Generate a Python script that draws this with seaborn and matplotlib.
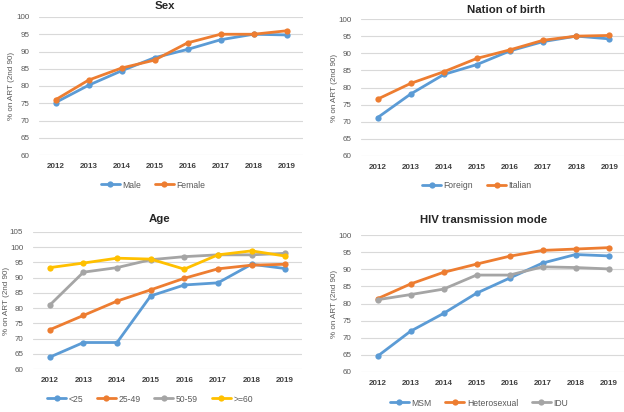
import matplotlib
matplotlib.use("Agg")
import matplotlib.pyplot as plt
import seaborn as sns
import pandas as pd

years = ["2012", "2013", "2014", "2015", "2016", "2017", "2018", "2019"]

sex_male = [75.2, 80.2, 84.4, 88.2, 90.6, 93.4, 95.0, 94.8]
sex_female = [76.0, 81.7, 85.2, 87.5, 92.5, 95.0, 95.0, 96.0]

birth_foreign = [71.2, 78.1, 83.8, 86.7, 90.7, 93.4, 95.0, 94.2]
birth_italian = [76.6, 81.2, 84.6, 88.5, 91.0, 93.8, 95.0, 95.2]

age_lt25 = [63.9, 68.7, 68.7, 84.0, 87.6, 88.3, 94.4, 93.0]
age_25_49 = [72.9, 77.6, 82.3, 86.0, 89.8, 92.9, 94.1, 94.4]
age_50_59 = [81.0, 91.8, 93.3, 95.9, 96.9, 97.5, 97.5, 98.0]
age_ge60 = [93.3, 94.8, 96.4, 96.1, 92.8, 97.5, 98.8, 97.1]

mode_msm = [64.6, 71.9, 77.1, 83.0, 87.4, 91.8, 94.3, 93.9]
mode_hetero = [81.4, 85.7, 89.1, 91.5, 93.8, 95.5, 95.9, 96.3]
mode_idu = [81.1, 82.6, 84.2, 88.3, 88.3, 90.7, 90.5, 90.1]

BLUE, ORANGE, GRAY, YELLOW = "#5B9BD5", "#ED7D31", "#A5A5A5", "#FFC000"
TEXT = "#595959"

sns.set_theme(style="white")
plt.rcParams["font.family"] = ["Liberation Sans", "DejaVu Sans"]

fig = plt.figure(figsize=(6.24, 4.12), dpi=100)
W, H = 624.0, 412.0


def panel(rect, title, title_xy, ylab_x, series, ylim, legend_xy):
    x0, y_top, x1, y_bot = rect
    ax = fig.add_axes([x0 / W, 1 - y_bot / H, (x1 - x0) / W, (y_bot - y_top) / H])
    rows = []
    for name, vals, _ in series:
        for yr, v in zip(years, vals):
            rows.append({"year": yr, "value": v, "group": name})
    df = pd.DataFrame(rows)
    palette = {name: c for name, _, c in series}
    sns.lineplot(data=df, x="year", y="value", hue="group", palette=palette,
                 hue_order=[s[0] for s in series], marker="o", markersize=4.5,
                 markeredgewidth=0, linewidth=2, sort=False, ax=ax)
    ax.set_xlim(-0.5, 7.5)
    ax.set_ylim(*ylim)
    ax.set_yticks(range(ylim[0], ylim[1] + 1, 5))
    ax.grid(axis="y", color="#D9D9D9", linewidth=0.8)
    ax.set_axisbelow(True)
    for s in ax.spines.values():
        s.set_visible(False)
    ax.tick_params(axis="y", labelsize=5.8, colors=TEXT, length=0, pad=7)
    ax.tick_params(axis="x", labelsize=5.8, colors="#404040", length=0, pad=6)
    for lab in ax.get_xticklabels():
        lab.set_fontweight("bold")
    ax.set_xlabel("")
    ax.set_ylabel("")
    fig.text(title_xy[0] / W, 1 - title_xy[1] / H, title, ha="center", va="center",
             fontsize=8.2, fontweight="bold", color="#262626")
    fig.text(ylab_x / W, 1 - ((y_top + y_bot) / 2) / H, "% on ART (2nd 90)",
             rotation=90, ha="center", va="center", fontsize=5.8, color=TEXT)
    handles, labels = ax.get_legend_handles_labels()
    ax.legend(handles, labels, loc="center", ncol=len(series), frameon=False,
              bbox_to_anchor=(legend_xy[0] / W, 1 - legend_xy[1] / H),
              bbox_transform=fig.transFigure, fontsize=6.2, labelcolor=TEXT,
              handlelength=2.2, columnspacing=1.6, handletextpad=0.3)
    return ax


panel((39, 17, 303, 155), "Sex", (165, 6), 12,
      [("Male", sex_male, BLUE), ("Female", sex_female, ORANGE)],
      (60, 100), (153, 185))

panel((361, 19, 626, 156), "Nation of birth", (506, 10), 335,
      [("Foreign", birth_foreign, BLUE), ("Italian", birth_italian, ORANGE)],
      (60, 100), (477, 186))

panel((33, 232, 302, 369), "Age", (160, 219), 7,
      [("<25", age_lt25, BLUE), ("25-49", age_25_49, ORANGE),
       ("50-59", age_50_59, GRAY), (">=60", age_ge60, YELLOW)],
      (60, 105), (150, 399))

panel((361, 235, 625, 372), "HIV transmission mode", (484, 220), 335,
      [("MSM", mode_msm, BLUE), ("Heterosexual", mode_hetero, ORANGE),
       ("IDU", mode_idu, GRAY)],
      (60, 100), (479, 403))

fig.savefig("out.png", dpi=100, facecolor="white")
